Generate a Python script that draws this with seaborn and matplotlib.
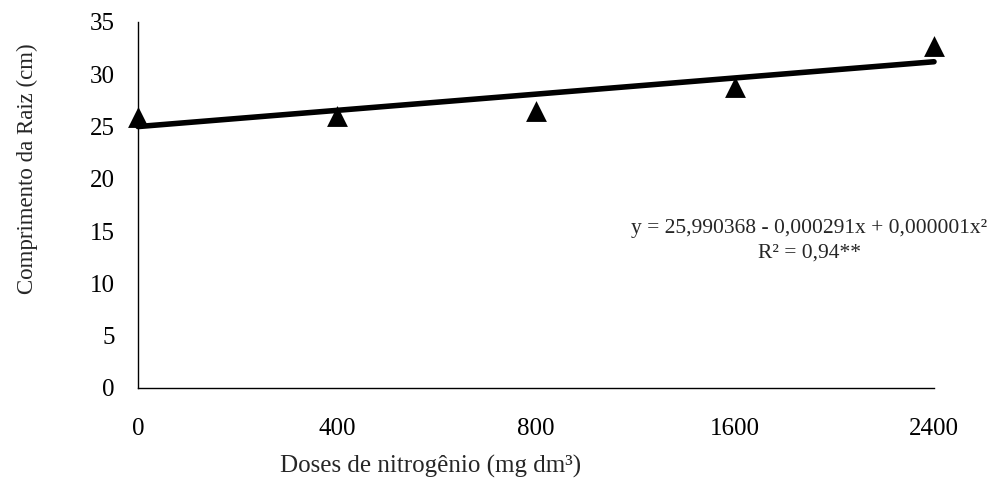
import matplotlib
matplotlib.use("Agg")
import matplotlib.pyplot as plt
import seaborn as sns
import pandas as pd

# ---- data ----
doses = ["0", "400", "800", "1600", "2400"]
comprimento = [25.9, 26.0, 26.5, 28.8, 32.7]
trend_doses = ["0", "2400"]
trend_values = [25.0, 31.2]
y_ticks = [0, 5, 10, 15, 20, 25, 30, 35]
equation = "y = 25,990368 - 0,000291x + 0,000001x\u00b2"
r2_text = "R\u00b2 = 0,94**"
x_label = "Doses de nitrogênio (mg dm³)"
y_label = "Comprimento da Raiz (cm)"

sns.set_style("white")
plt.rcParams["font.family"] = ["Liberation Serif", "DejaVu Serif"]

fig = plt.figure(figsize=(9.9, 4.87), dpi=100)
ax = fig.add_axes([138 / 990, 1 - 388 / 487, (934 - 138) / 990, (388 - 22) / 487])

pts = pd.DataFrame({"dose": doses, "comp": comprimento})
trend = pd.DataFrame({"dose": trend_doses, "comp": trend_values})

sns.scatterplot(data=pts, x="dose", y="comp", marker="^", s=15 ** 2,
                color="black", edgecolor="black", linewidth=0, ax=ax,
                zorder=3, clip_on=False)
sns.lineplot(data=trend, x="dose", y="comp", color="black", linewidth=4.0,
             ax=ax, zorder=2, clip_on=False)

ax.set_xlim(0, len(doses) - 1)
ax.set_ylim(0, 35)
ax.set_yticks(y_ticks)
ax.set_xticks(range(len(doses)))
ax.set_xticklabels(doses)

for s in ["top", "right"]:
    ax.spines[s].set_visible(False)
for s in ["left", "bottom"]:
    ax.spines[s].set_color("black")
    ax.spines[s].set_linewidth(1.0)

ax.tick_params(axis="both", direction="inout", length=9.5, width=0.8,
               color="#555555", labelsize=18, labelcolor="black")
ax.tick_params(axis="x", pad=17)
ax.tick_params(axis="y", pad=12)

ax.set_xlabel(x_label, fontsize=18, va="center")
ax.set_ylabel(y_label, fontsize=16.5)
ax.xaxis.set_label_coords(0.367, -0.215)
ax.yaxis.set_label_coords(-0.125, 0.60)

ax.text(0.843, 0.437, equation, transform=ax.transAxes, ha="center",
        va="center", fontsize=15.5)
ax.text(0.843, 0.369, r2_text, transform=ax.transAxes, ha="center",
        va="center", fontsize=15.5)

fig.savefig("out.png", dpi=100)
